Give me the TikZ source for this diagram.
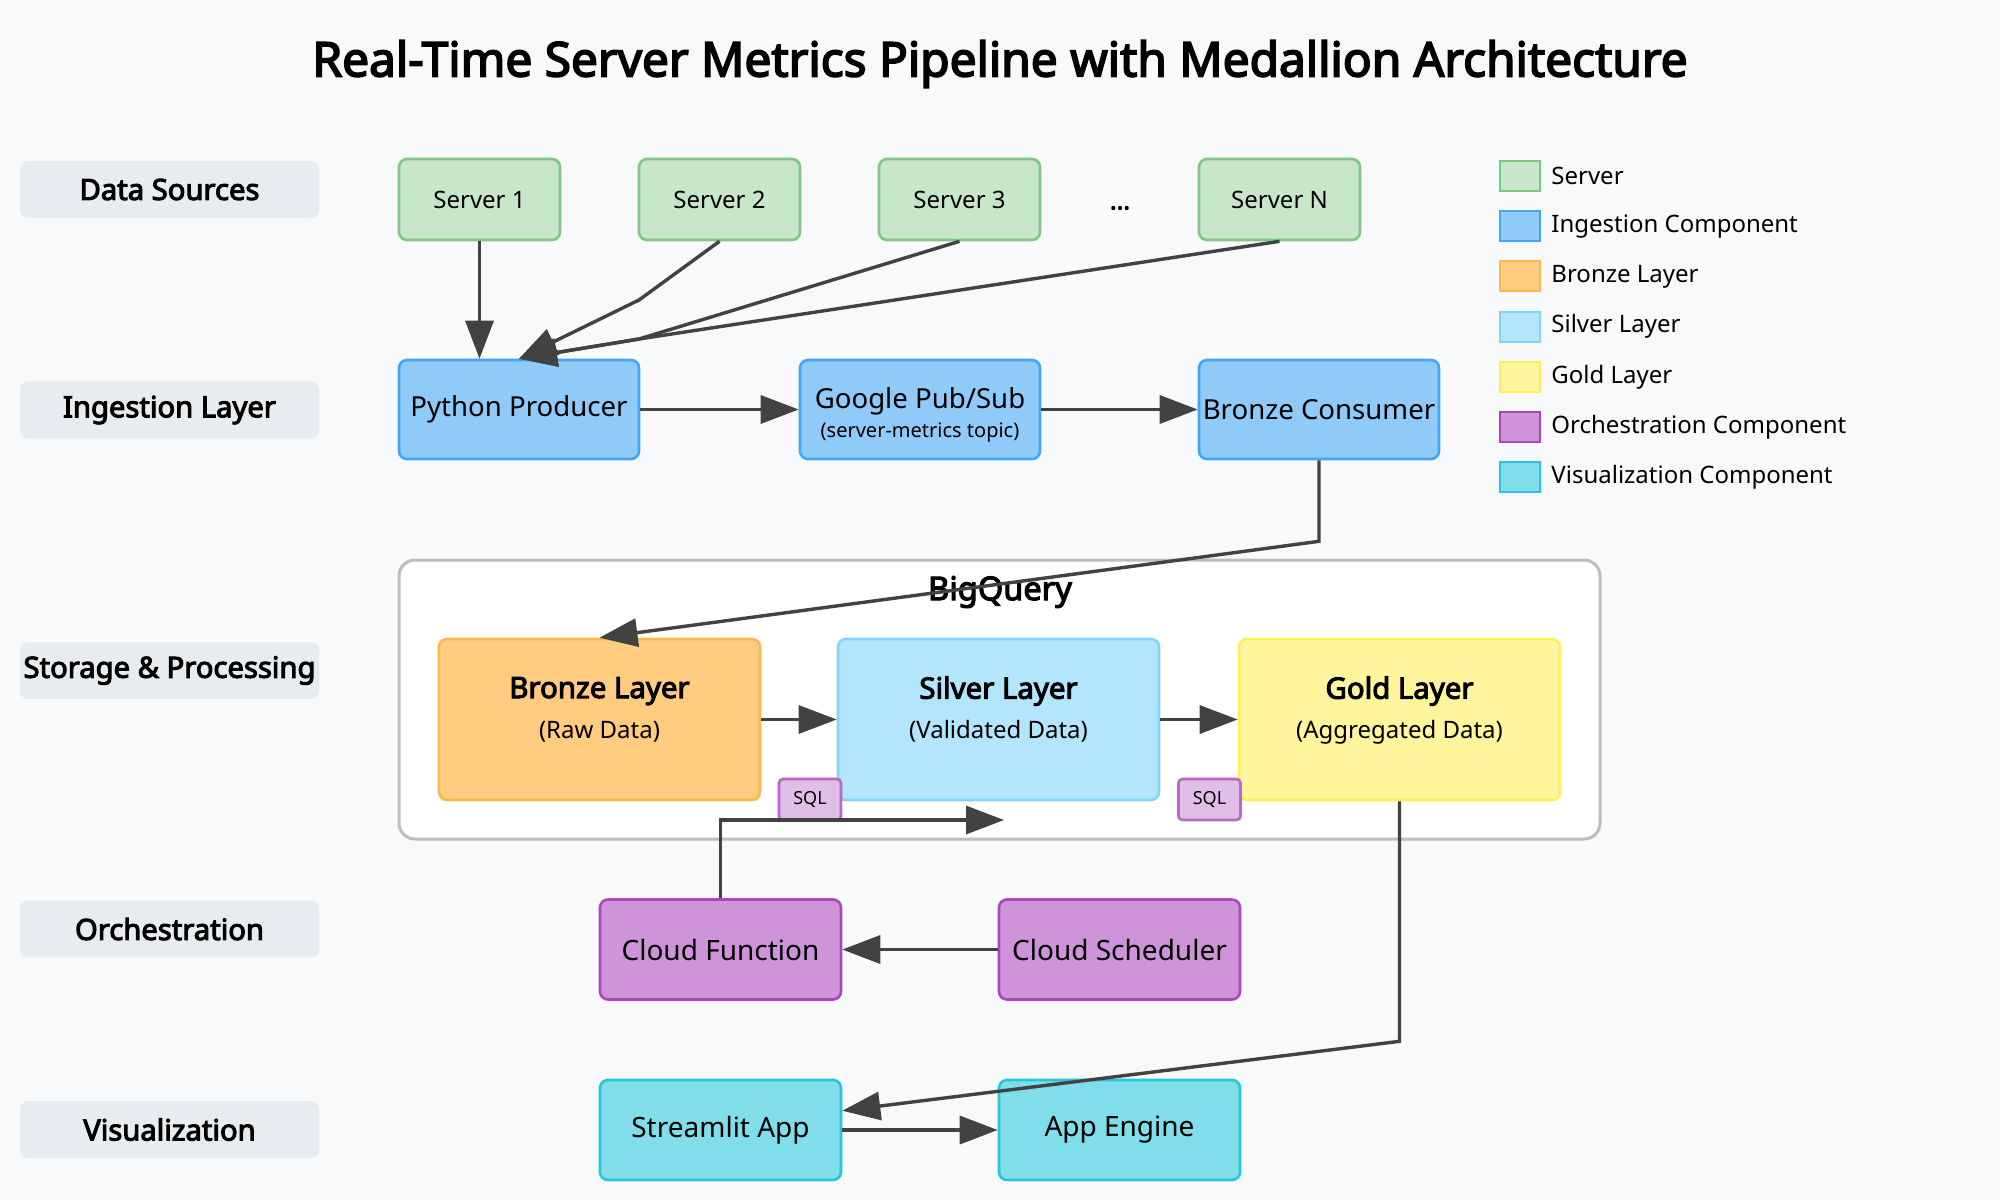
\documentclass[tikz,border=0pt]{standalone}
\usepackage{fontspec}
\setmainfont{Noto Sans}[BoldFont={Noto Sans}, BoldFeatures={FakeBold=3.5}]
\usetikzlibrary{arrows.meta,positioning}
\definecolor{bgcol}{HTML}{F8F9FA}
\definecolor{lblfill}{HTML}{E9ECEF}
\definecolor{srvfill}{HTML}{C8E6C9}\definecolor{srvdraw}{HTML}{81C784}
\definecolor{ingfill}{HTML}{90CAF9}\definecolor{ingdraw}{HTML}{42A5F5}
\definecolor{brzfill}{HTML}{FFCC80}\definecolor{brzdraw}{HTML}{FFB74D}
\definecolor{slvfill}{HTML}{B3E5FC}\definecolor{slvdraw}{HTML}{81D4FA}
\definecolor{gldfill}{HTML}{FFF59D}\definecolor{glddraw}{HTML}{FFEE58}
\definecolor{orcfill}{HTML}{CE93D8}\definecolor{orcdraw}{HTML}{AB47BC}
\definecolor{visfill}{HTML}{80DEEA}\definecolor{visdraw}{HTML}{26C6DA}
\definecolor{sqlfill}{HTML}{E1BEE7}\definecolor{sqldraw}{HTML}{BA68C8}
\definecolor{bqdraw}{HTML}{BDBDBD}
\definecolor{arrowgray}{HTML}{424242}
\tikzset{
>={Triangle[length=19pt,width=14pt]},
  box/.style={
    rectangle,
    rounded corners=4pt,
    line width=1.3pt,
    minimum width=120pt,
    minimum height=50pt,
    inner sep=2pt,
    inner xsep=1pt,
    align=center,
    font=\fontsize{14}{17}\selectfont},
  serverbox/.style={box, fill=srvfill, draw=srvdraw,
    minimum width=80.5pt, minimum height=40.5pt,
    font=\fontsize{12}{14}\selectfont},
  ingestbox/.style={box, fill=ingfill, draw=ingdraw, minimum height=49.5pt,
    font=\fontsize{13.8}{16}\selectfont},
  layerbox/.style={box, minimum width=160.5pt, minimum height=80.5pt},
  orchbox/.style={box, fill=orcfill, draw=orcdraw, minimum width=120.5pt},
  visbox/.style={box, fill=visfill, draw=visdraw, minimum width=120.5pt},
  sqlbox/.style={box, fill=sqlfill, draw=sqldraw, line width=1.3pt,
    rounded corners=2pt, minimum width=31pt, minimum height=20.5pt,
    font=\fontsize{9}{11}\selectfont},
  bqbox/.style={rectangle, rounded corners=8pt, fill=white, draw=bqdraw,
    line width=1.5pt, minimum width=600.5pt, minimum height=139.5pt},
  rowlabel/.style={rectangle, rounded corners=4pt, fill=lblfill,
    minimum width=149.5pt, minimum height=28.5pt, inner xsep=0pt,
    font=\fontsize{14.6}{17}\selectfont\bfseries},
  swatch/.style={rectangle, line width=1pt, minimum width=20pt,
    minimum height=15pt, inner sep=0pt},
  legendtext/.style={inner sep=0pt, font=\fontsize{12}{14}\selectfont},
  line/.style={draw=arrowgray, line width=1.7pt, ->},
}
\def\layertext#1#2{{\fontsize{14.7}{17}\selectfont\bfseries #1}\\[3pt]{\fontsize{12}{14}\selectfont #2}\\[-5pt]}

\begin{document}
\begin{tikzpicture}[x=0.5pt,y=-0.5pt]
  \useasboundingbox (0,0) rectangle (2000,1200);
  \fill[bgcol] (0,0) rectangle (2000,1200);

  \node[font=\fontsize{23.9}{28}\selectfont\bfseries] (title) at (1000,64)
    {Real-Time Server Metrics Pipeline with Medallion Architecture};

  % row labels on the left
  \foreach \y/\n/\txt in {189.5/src/Data Sources, 410/ing/Ingestion Layer,
      670.5/sto/Storage \& Processing, 929/orc/Orchestration, 1129.5/vis/Visualization}
    \node[rowlabel] (row-\n) at (169.5,\y) {\txt};

  % data sources
  \node[serverbox] (srv1) at (479.5,199.5) {Server 1};
  \node[serverbox, right=38.2pt of srv1] (srv2) {Server 2};
  \node[serverbox, right=38.2pt of srv2] (srv3) {Server 3};
  \node[serverbox, right=78.2pt of srv3] (srvN) {Server N};
  \node[font=\fontsize{12.5}{14}\selectfont\bfseries] (dots) at (1120,208) {...};

  % ingestion
  \node[ingestbox] (producer) at (519,409.5) {Python Producer};
  \node[ingestbox, right=79.2pt of producer] (pubsub)
    {\raisebox{-3.5pt}[\height][\depth]{\begin{tabular}{@{}c@{}}Google Pub/Sub\\[-1.5pt]
      {\fontsize{10}{12}\selectfont (server-metrics topic)}\end{tabular}}};
  \node[ingestbox, right=78.2pt of pubsub] (consumer) {Bronze Consumer};

  % storage & processing
  \node[bqbox] (bq) at (999.5,699.5) {};
  \node[font=\fontsize{16.3}{19}\selectfont\bfseries] (bq-title) at (1000,592) {BigQuery};
  \node[layerbox, fill=brzfill, draw=brzdraw] (bronze) at (599.5,719.5)
    {\layertext{Bronze Layer}{(Raw Data)}};
  \node[layerbox, fill=slvfill, draw=slvdraw, right=37.7pt of bronze] (silver)
    {\layertext{Silver Layer}{(Validated Data)}};
  \node[layerbox, fill=gldfill, draw=glddraw, right=38.7pt of silver] (gold)
    {\layertext{Gold Layer}{(Aggregated Data)}};
  \node[sqlbox] (sql1) at (810,799.5) {SQL};
  \node[sqlbox] (sql2) at (1209.5,799.5) {SQL};

  % orchestration
  \node[orchbox] (cfunc) at (720.5,949.5) {Cloud Function};
  \node[orchbox, right=77.7pt of cfunc] (sched) {Cloud Scheduler};

  % visualization
  \node[visbox] (streamlit) at (720.5,1130) {Streamlit App};
  \node[visbox, right=77.7pt of streamlit] (appengine) {App Engine};

  % legend
  \foreach \i/\c/\txt in {0/srv/Server, 1/ing/Ingestion Component, 2/brz/Bronze Layer,
      3/slv/Silver Layer, 4/gld/Gold Layer, 5/orc/Orchestration Component,
      6/vis/Visualization Component}{
    \node[swatch, fill=\c fill, draw=\c draw] (sw\i) at (1520,176+50.2*\i) {};
    \node[legendtext, right=5pt of sw\i] (lg\i) {\txt};
  }

  % connectors
  \coordinate (fork2) at (639,300);
  \coordinate (fork) at (639,339);
  \coordinate (cf-end) at (1004,820);
  \draw[line] (srv1) -- (srv1 |- producer.north);
  \draw[line] (srv2.south) -- (fork2) -- (producer.north);
  \draw[line] (srv3.south) -- (fork) -- (producer.north);
  \draw[line] (srvN.south) -- (fork) -- (producer.north);
  \draw[line] (producer) -- (pubsub);
  \draw[line] (pubsub) -- (consumer);
  \draw[line] (consumer.south) -- ++(0,81) -- (bronze.north);
  \draw[line] (bronze) -- (silver);
  \draw[line] (silver) -- (gold);
  \draw[line] (cfunc.north) |- (cf-end);
  \draw[line] (sched) -- (cfunc);
  \draw[line] (gold.south) -- ++(0,240) -- (streamlit.9);
  \draw[line] (streamlit) -- (appengine);
\end{tikzpicture}
\end{document}
